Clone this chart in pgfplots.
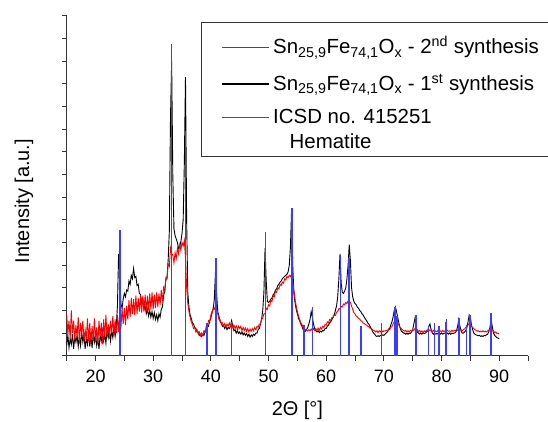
\documentclass[border=0pt]{standalone}
\usepackage{fontspec}
\setmainfont{Liberation Sans}
\usepackage{pgfplots}
\usepackage{pgfplotstable}
\pgfplotsset{compat=1.18}
\definecolor{stick}{RGB}{60,60,255}
\newcommand\st[2]{\rule[-#2]{0pt}{\dimexpr#1+#2\relax}}
\newcommand\lline[1]{\textcolor{#1}{\rule[5.8bp]{47bp}{1.6bp}}\hspace*{4bp}}
\pgfplotstableread{
x b r
15.0 0.45 1.85
15.2 0.90 0.95
15.4 0.35 1.55
15.6 0.75 0.75
15.8 0.50 2.00
16.0 0.95 1.00
16.2 0.30 1.55
16.4 0.85 0.70
16.6 0.60 1.35
16.8 0.90 0.85
17.0 0.40 1.70
17.2 0.85 0.55
17.4 0.45 1.45
17.6 1.05 1.00
17.8 0.60 1.55
18.0 0.90 0.60
18.2 0.30 1.15
18.4 0.80 0.75
18.6 0.50 1.65
18.8 1.00 0.65
19.0 0.40 1.45
19.2 0.85 0.55
19.4 0.35 1.30
19.6 0.95 0.70
19.8 0.60 1.65
20.0 1.00 0.60
20.2 0.45 1.25
20.4 0.75 0.50
20.6 0.30 1.55
20.8 0.90 0.85
21.0 0.65 1.45
21.2 1.10 0.50
21.4 0.65 1.60
21.6 0.95 0.85
21.8 0.55 1.80
22.0 1.15 0.80
22.2 0.80 1.40
22.4 1.15 0.75
22.6 0.65 1.55
22.8 1.10 1.00
23.0 0.80 1.75
23.2 1.25 0.85
23.4 0.85 1.60
23.6 1.30 1.00
23.8 2.20 1.80
24.0 4.50 1.05
24.2 3.60 1.90
24.4 2.30 1.20
24.6 2.10 2.10
24.8 2.50 1.40
25.0 2.75 2.10
25.2 2.60 1.35
25.4 2.90 2.20
25.6 2.85 1.60
25.8 3.30 2.45
26.0 3.15 1.70
26.2 3.55 2.55
26.4 3.40 1.85
26.6 3.85 2.50
26.8 3.45 1.80
27.0 3.50 2.65
27.2 3.10 1.85
27.4 3.15 2.55
27.6 2.75 1.95
27.8 2.70 2.70
28.0 2.35 1.90
28.2 2.45 2.65
28.4 2.05 1.95
28.6 2.20 2.70
28.8 1.85 1.95
29.0 2.05 2.65
29.2 1.75 2.00
29.4 2.00 2.75
29.6 1.70 2.05
29.8 1.95 2.80
30.0 1.65 2.05
30.2 1.90 2.70
30.4 1.60 2.10
30.6 1.80 2.80
30.8 1.55 2.15
31.0 1.85 2.75
31.2 1.70 2.25
31.4 2.05 2.90
31.6 2.15 2.40
31.8 2.65 3.00
32.0 2.85 2.85
32.2 3.35 3.45
32.4 3.45 3.40
32.6 4.25 4.05
32.8 5.50 3.95
33.0 10.50 4.75
33.2 13.00 4.50
33.4 8.00 4.45
33.6 5.60 4.10
33.8 5.30 4.55
34.0 5.15 4.30
34.2 5.00 4.75
34.4 4.75 4.50
34.6 4.80 4.90
34.8 5.05 4.65
35.0 5.40 5.00
35.2 6.00 4.85
35.4 8.50 5.10
35.6 12.30 4.30
35.8 6.00 3.00
36.0 2.80 2.30
36.2 2.15 1.95
36.4 1.80 1.70
36.6 1.65 1.50
36.8 1.45 1.38
37.0 1.40 1.20
37.2 1.25 1.25
37.4 1.20 1.05
37.6 1.05 1.15
37.8 1.05 0.95
38.0 0.90 1.05
38.2 0.95 0.88
38.4 0.85 1.00
38.6 0.95 0.90
38.8 0.90 1.10
39.0 1.05 1.05
39.2 1.05 1.30
39.4 1.25 1.30
39.6 1.30 1.55
39.8 1.55 1.50
40.0 1.65 1.80
40.2 1.95 1.85
40.4 2.05 2.10
40.6 2.50 2.05
40.8 3.70 2.20
41.0 2.70 1.90
41.2 1.95 1.85
41.4 1.75 1.60
41.6 1.50 1.60
41.8 1.45 1.40
42.0 1.30 1.45
42.2 1.35 1.30
42.4 1.20 1.42
42.6 1.30 1.28
42.8 1.15 1.40
43.0 1.25 1.30
43.2 1.20 1.45
43.4 1.30 1.30
43.6 1.55 1.40
43.8 1.30 1.25
44.0 1.10 1.35
44.2 1.15 1.20
44.4 1.00 1.32
44.6 1.10 1.15
44.8 0.98 1.30
45.0 1.05 1.20
45.2 0.95 1.30
45.4 1.05 1.10
45.6 0.92 1.25
45.8 1.00 1.12
46.0 0.90 1.22
46.2 0.98 1.08
46.4 0.85 1.20
46.6 0.95 1.05
46.8 0.82 1.18
47.0 0.92 1.08
47.2 0.85 1.20
47.4 0.95 1.10
47.6 0.90 1.25
47.8 1.00 1.15
48.0 1.00 1.30
48.2 1.15 1.25
48.4 1.20 1.40
48.6 1.40 1.40
48.8 1.60 1.60
49.0 2.00 1.65
49.2 2.80 1.85
49.4 4.75 1.85
49.6 3.30 2.10
49.8 2.40 2.05
50.0 2.35 2.25
50.2 2.40 2.20
50.4 2.50 2.45
50.6 2.55 2.40
50.8 2.70 2.65
51.0 2.75 2.60
51.2 2.90 2.85
51.4 2.95 2.80
51.6 3.10 3.00
51.8 3.15 2.95
52.0 3.25 3.15
52.2 3.30 3.10
52.4 3.40 3.25
52.6 3.45 3.20
52.8 3.50 3.40
53.0 3.55 3.35
53.2 3.60 3.50
53.4 3.70 3.45
53.6 4.00 3.55
53.8 4.80 3.50
54.0 6.45 3.60
54.2 4.00 3.30
54.4 2.75 2.90
54.6 2.35 2.50
54.8 2.05 2.20
55.0 1.85 1.95
55.2 1.65 1.75
55.4 1.55 1.60
55.6 1.40 1.45
55.8 1.30 1.38
56.0 1.15 1.25
56.2 1.12 1.20
56.4 1.08 1.15
56.6 1.15 1.12
56.8 1.25 1.10
57.0 1.40 1.15
57.2 1.60 1.10
57.4 1.95 1.18
57.6 1.70 1.10
57.8 1.40 1.20
58.0 1.20 1.12
58.2 1.10 1.20
58.4 1.05 1.10
58.6 1.10 1.22
58.8 1.02 1.12
59.0 1.08 1.25
59.2 1.05 1.18
59.4 1.12 1.30
59.6 1.10 1.25
59.8 1.20 1.38
60.0 1.20 1.35
60.2 1.30 1.50
60.4 1.35 1.45
60.6 1.45 1.60
60.8 1.50 1.55
61.0 1.60 1.70
61.2 1.70 1.68
61.4 1.80 1.80
61.6 2.00 1.78
61.8 2.20 1.92
62.0 2.60 1.95
62.2 3.40 2.08
62.4 4.50 2.05
62.6 3.20 2.18
62.8 2.80 2.15
63.0 2.75 2.28
63.2 2.85 2.25
63.4 3.00 2.35
63.6 3.40 2.30
63.8 4.00 2.42
64.0 4.90 2.40
64.2 4.20 2.35
64.4 3.00 2.20
64.6 2.60 2.05
64.8 2.40 1.90
65.0 2.30 1.85
65.2 2.25 1.75
65.4 2.15 1.72
65.6 2.10 1.65
65.8 2.00 1.62
66.0 1.95 1.55
66.2 1.85 1.52
66.4 1.80 1.45
66.6 1.70 1.42
66.8 1.62 1.38
67.0 1.55 1.35
67.2 1.45 1.30
67.4 1.40 1.28
67.6 1.30 1.22
67.8 1.20 1.20
68.0 1.10 1.15
68.2 1.00 1.12
68.4 0.95 1.10
68.6 0.88 1.05
68.8 0.85 1.10
69.0 0.88 1.02
69.2 0.85 1.10
69.4 0.90 1.05
69.6 0.88 1.12
69.8 0.92 1.05
70.0 0.90 1.10
70.2 0.95 1.08
70.4 1.00 1.12
70.6 1.05 1.10
70.8 1.15 1.18
71.0 1.20 1.15
71.2 1.35 1.25
71.4 1.50 1.28
71.6 1.70 1.40
71.8 2.00 1.50
72.0 2.15 1.60
72.2 1.95 1.50
72.4 1.70 1.42
72.6 1.45 1.35
72.8 1.25 1.25
73.0 1.10 1.20
73.2 1.05 1.15
73.4 1.00 1.12
73.6 1.00 1.08
73.8 0.95 1.12
74.0 1.00 1.05
74.2 0.95 1.10
74.4 1.00 1.05
74.6 0.98 1.12
74.8 1.05 1.08
75.0 1.15 1.15
75.2 1.40 1.12
75.4 1.65 1.20
75.6 1.30 1.10
75.8 1.05 1.15
76.0 1.00 1.05
76.2 0.95 1.12
76.4 1.00 1.05
76.6 0.95 1.10
76.8 1.00 1.02
77.0 0.98 1.10
77.2 1.00 1.05
77.4 1.05 1.12
77.6 1.10 1.08
77.8 1.30 1.15
78.0 1.40 1.10
78.2 1.15 1.15
78.4 1.00 1.05
78.6 0.95 1.12
78.8 1.00 1.05
79.0 0.95 1.10
79.2 0.98 1.05
79.4 0.95 1.12
79.6 1.00 1.06
79.8 0.95 1.10
80.0 1.00 1.05
80.2 0.95 1.12
80.4 0.98 1.06
80.6 1.00 1.10
80.8 1.05 1.05
81.0 1.00 1.12
81.2 0.95 1.08
81.4 1.00 1.10
81.6 0.95 1.05
81.8 1.00 1.12
82.0 0.98 1.08
82.2 1.00 1.12
82.4 1.02 1.10
82.6 1.10 1.15
82.8 1.30 1.12
83.0 1.60 1.18
83.2 1.30 1.12
83.4 1.10 1.15
83.6 1.00 1.10
83.8 1.00 1.15
84.0 1.05 1.18
84.2 1.10 1.25
84.4 1.25 1.30
84.6 1.50 1.35
84.8 1.80 1.42
85.0 1.70 1.38
85.2 1.35 1.30
85.4 1.15 1.25
85.6 1.00 1.20
85.8 0.95 1.15
86.0 0.92 1.12
86.2 0.90 1.08
86.4 0.88 1.10
86.6 0.90 1.05
86.8 0.85 1.08
87.0 0.88 1.05
87.2 0.85 1.10
87.4 0.90 1.05
87.6 0.88 1.08
87.8 0.92 1.05
88.0 0.95 1.10
88.2 1.05 1.12
88.4 1.25 1.20
88.6 1.60 1.30
88.8 1.30 1.15
89.0 1.00 1.10
89.2 0.90 1.02
89.4 0.85 1.05
89.6 0.80 0.98
89.8 0.78 1.00
90.0 0.75 0.95
}\xrd
\pgfplotstableread{
x h
24.25 5.55
33.15 13.75
35.62 9.90
39.30 1.44
40.87 4.30
43.55 1.50
49.45 5.47
54.07 6.50
56.17 1.35
57.60 2.16
62.45 4.45
64.00 4.30
66.05 1.31
69.60 1.46
71.95 2.16
72.28 1.75
75.45 1.66
75.58 1.80
77.75 1.31
78.78 1.44
79.60 1.29
80.70 1.50
80.85 1.60
83.05 1.66
84.35 1.35
84.95 1.80
88.55 1.87
88.70 1.60
}\icsd
\begin{document}
\fontsize{20}{24}\selectfont
\begin{tikzpicture}
\begin{axis}[
  at={(66.7bp,66.3bp)}, anchor=south west, scale only axis,
  width=461.3bp, height=339.7bp,
  xmin=15, xmax=95, ymin=0, ymax=15,
  axis lines*=left,
  axis line style={-, line width=1.2bp, black!80},
  xtick={20,30,...,90}, minor xtick={15,25,...,95},
  ytick={0,1,...,15}, yticklabels={},
  tick align=outside, major tick length=5bp, minor tick length=5bp,
  every tick/.style={line width=1bp, black!80},
  /pgf/number format/assume math mode=true,
  xticklabel style={font=\fontsize{18}{20}\selectfont, yshift=-2bp},
  xlabel={2Θ [°]}, ylabel={Intensity [a.u.]},
  label style={font=\fontsize{20}{24}\selectfont},
  xlabel style={at={(axis description cs:0.5,-0.16)}, anchor=center},
  ylabel style={at={(axis description cs:-0.0926,0.455)}, anchor=center},
  legend style={at={(axis description cs:0.291,0.983)}, anchor=north west,
    draw=black!80, line width=1.2bp, fill=white,
    font=\fontsize{20.5}{24.5}\selectfont,
    inner xsep=20.7bp, inner ysep=5.2bp, row sep=0pt, column sep=0pt,
    nodes={inner sep=0pt, text depth=, text height=}},
  legend cell align=left,
  legend image code/.code={},
]
\addplot[black, line width=0.9bp, forget plot] table[x=x, y=b] {\xrd};
\addplot[red, line width=0.9bp, forget plot] table[x=x, y=r] {\xrd};
\addplot[ycomb, stick, line width=1.5bp, no marks, forget plot] table[x=x, y=h] {\icsd};
\addlegendimage{empty legend}
\addlegendentry{\st{26.4bp}{13.2bp}\lline{red}Sn\textsubscript{25,9}Fe\textsubscript{74,1}O\textsubscript{x} - 2\textsuperscript{nd} synthesis\hspace*{-14bp}}
\addlegendimage{empty legend}
\addlegendentry{\st{23.5bp}{10.3bp}\lline{black}Sn\textsubscript{25,9}Fe\textsubscript{74,1}O\textsubscript{x} - 1\textsuperscript{st} synthesis}
\addlegendimage{empty legend}
\addlegendentry{\st{23bp}{9.8bp}\lline{stick}ICSD no. 415251}
\addlegendimage{empty legend}
\addlegendentry{\st{15.2bp}{2bp}\hspace*{67.5bp}Hematite}
\end{axis}
\pgfresetboundingbox
\path (0,0) rectangle (548bp,422bp);
\end{tikzpicture}
\end{document}
